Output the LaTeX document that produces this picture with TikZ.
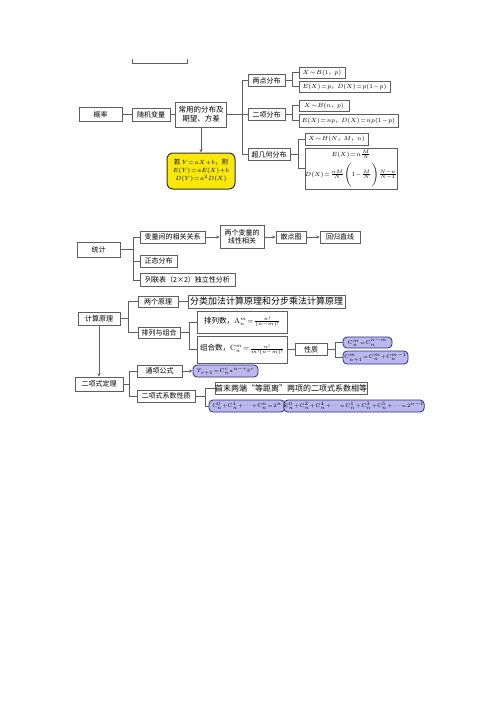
\documentclass[tikz,border=0pt]{standalone}
\usepackage{fontspec}
\newfontfamily\cjk{Noto Sans CJK SC}
\usetikzlibrary{arrows.meta}
\definecolor{linegray}{RGB}{95,95,95}
\definecolor{formfill}{RGB}{186,184,238}
\definecolor{formdraw}{RGB}{45,45,120}
\definecolor{keyfill}{RGB}{250,232,10}
\newcommand\tightmath{\medmuskip=1mu\thickmuskip=1.5mu\thinmuskip=1mu}

\begin{document}
\begin{tikzpicture}[
    x=1pt, y=-1pt,
    base/.style={rectangle, draw=linegray, line width=0.6pt, inner sep=0pt, align=center, font=\cjk\fontsize{7}{8.5}\selectfont},
    sz/.style 2 args={minimum width=#1, minimum height=#2},
    big_style/.style={base, font=\cjk\fontsize{7.5}{9}\selectfont\tightmath},
    form_style/.style={base, font=\cjk\fontsize{6}{7.5}\selectfont\tightmath},
    round_style/.style={base, font=\cjk\fontsize{5.5}{7}\selectfont\tightmath, rounded corners=4pt, fill=formfill, draw=formdraw, line width=0.8pt},
    key_style/.style={base, font=\cjk\fontsize{6.5}{8}\selectfont\tightmath, rounded corners=6pt, fill=keyfill, draw=black!80, line width=1pt},
    link/.style={draw=linegray, line width=0.6pt},
    arrow/.style={link, -{Stealth[length=3.5pt, width=3pt]}}
]
    \path [use as bounding box, fill=white] (0,0) rectangle (500,707);

    % --- CUT-OFF BOX AT THE TOP ---
    \draw [link] (132,59) -- (132,63) -- (187,63) -- (187,59);

    % --- PROBABILITY ---
    \node (gailv) [base, sz={43}{14}] at (100.5,114.5) {概率};
    \node (suiji) [base, sz={38}{13}] at (151,114.5) {随机变量};
    \node (changyong) [big_style, sz={51}{25}] at (201,114.5) {常用的分布及\\期望、方差};
    \node (linear) [key_style, sz={68}{36}] at (201,171) {若 $Y=aX+b$，则\\$E(Y)=aE(X)+b$\\$D(Y)=a^2D(X)$};

    \node (liangdian) [base, sz={37}{12}] at (266.5,80.5) {两点分布};
    \node (erxiang) [base, sz={37}{12}] at (266.5,114.5) {二项分布};
    \node (chaoji) [base, sz={42}{12}] at (269,154.5) {超几何分布};

    \node (ld_law) [form_style, sz={46}{11}] at (322,72.5) {$X\sim B(1$，$p)$};
    \node (ld_mean) [form_style, sz={91}{11}] at (344.5,86.5) {$E(X)=p$，$D(X)=p(1-p)$};
    \node (ex_law) [form_style, sz={50}{11}] at (324,105.5) {$X\sim B(n$，$p)$};
    \node (ex_mean) [form_style, sz={99}{13}] at (348.5,120.5) {$E(X)=np$，$D(X)=np(1-p)$};
    \node (cj_law) [form_style, sz={63}{12}] at (336.5,139) {$X\sim H(N$，$M$，$n)$};
    \node (cj_mean) [form_style, sz={92}{41}] at (351,168.5) {$E(X)=n\frac{M}{N}$\\[3pt]$D(X)=\frac{nM}{N}\Bigl(1-\frac{M}{N}\Bigr)\frac{N-n}{N-1}$};

    \draw [link] (gailv) -- (suiji);
    \draw [link] (suiji) -- (changyong);
    \draw [arrow] (changyong) -- (linear);
    \foreach \n in {liangdian, erxiang, chaoji}
        \draw [link] (changyong.east) -- ++(15,0) |- (\n.west);
    \foreach \n in {ld_law, ld_mean}
        \draw [link] (liangdian.east) -- ++(7,0) |- (\n.west);
    \foreach \n in {ex_law, ex_mean}
        \draw [link] (erxiang.east) -- ++(7,0) |- (\n.west);
    \foreach \n in {cj_law, cj_mean}
        \draw [link] (chaoji.east) -- ++(8,0) |- (\n.west);

    % --- STATISTICS ---
    \node (tongji) [base, sz={43}{15}] at (98.5,249.5) {统计};
    \node (xiangguan) [base, sz={65}{12}] at (172.5,237) {变量间的相关关系};
    \node (zhengtai) [base, sz={37}{12}] at (158.5,261) {正态分布};
    \node (lianbiao) [base, sz={95}{13}] at (187.5,280) {列联表（2×2）独立性分析};
    \node (liangge) [base, sz={44}{23}] at (242,237) {两个变量的\\线性相关};
    \node (sandian) [base, sz={30}{12}] at (291,237) {散点图};
    \node (huigui) [base, sz={40}{12}] at (340,237) {回归直线};

    \foreach \n in {xiangguan, zhengtai, lianbiao}
        \draw [link] (tongji.east) -- ++(13,0) |- (\n.west);
    \draw [arrow] (xiangguan) -- (liangge);
    \draw [arrow] (liangge) -- (sandian);
    \draw [arrow] (sandian) -- (huigui);

    % --- COUNTING PRINCIPLES ---
    \node (jisuan) [base, sz={42}{13}] at (99,318.5) {计算原理};
    \node (yuanli) [base, sz={40}{11}] at (158,301.5) {两个原理};
    \node (pailie) [base, sz={42}{11}] at (159,332.5) {排列与组合};
    \node (fenlei) [base, font=\cjk\fontsize{9}{10}\selectfont, sz={157}{13}] at (266.5,301.5) {分类加法计算原理和分步乘法计算原理};
    \node (paishu) [big_style, sz={90}{22}] at (242,322) {排列数，$\mathrm{A}_n^m=\frac{n!}{(n-m)!}$};
    \node (zuhe) [big_style, sz={90}{27}] at (242,349.5) {组合数，$\mathrm{C}_n^m=\frac{n!}{m!(n-m)!}$};
    \node (xingzhi) [base, sz={32}{12}] at (311,349.5) {性质};
    \node (sym) [round_style, sz={49}{11}] at (367.5,342.5) {$\mathrm{C}_n^m=\mathrm{C}_n^{n-m}$};
    \node (pascal) [round_style, sz={65}{13}] at (375.5,357.5) {$\mathrm{C}_{n+1}^m=\mathrm{C}_n^m+\mathrm{C}_n^{m-1}$};

    \foreach \n in {yuanli, pailie}
        \draw [link] (jisuan.east) -- ++(8,0) |- (\n.west);
    \draw [link] (yuanli) -- (fenlei);
    \foreach \n in {paishu, zuhe}
        \draw [link] (pailie.east) -- ++(9,0) |- (\n.west);
    \draw [link] (zuhe) -- (xingzhi);
    \foreach \n in {sym, pascal}
        \draw [link] (xingzhi.east) -- ++(8,0) |- (\n.west);

    % --- BINOMIAL THEOREM ---
    \node (erxiangshi) [base, sz={48}{14}] at (99,384) {二项式定理};
    \node (tongxiang) [base, sz={45}{12}] at (159.5,371) {通项公式};
    \node (term) [round_style, sz={65}{12}] at (225.5,371) {$T_{r+1}=\mathrm{C}_n^r a^{n-r}b^r$};
    \node (xishu) [base, sz={58}{12}] at (166,396) {二项式系数性质};
    \node (shoumo) [base, font=\cjk\fontsize{8}{9}\selectfont, sz={152}{12}] at (291,388) {首末两端“等距离”两项的二项式系数相等};
    \node (sum_all) [round_style, sz={76}{12}] at (247,406) {$\mathrm{C}_n^0+\mathrm{C}_n^1+\cdots+\mathrm{C}_n^n=2^n$};
    \node (sum_half) [round_style, font=\fontsize{5.2}{6.5}\selectfont\tightmath, sz={128}{12}] at (354,406) {$\mathrm{C}_n^0+\mathrm{C}_n^2+\mathrm{C}_n^4+\cdots=\mathrm{C}_n^1+\mathrm{C}_n^3+\mathrm{C}_n^5+\cdots=2^{n-1}$};

    \draw [arrow] (jisuan) -- (erxiangshi);
    \foreach \n in {tongxiang, xishu}
        \draw [link] (erxiangshi.east) -- ++(6,0) |- (\n.west);
    \draw [arrow] (tongxiang) -- (term);
    \foreach \n in {shoumo, sum_all}
        \draw [link] (xishu.east) -- ++(10,0) |- (\n.west);
    \draw [arrow] (sum_all) -- (sum_half);

\end{tikzpicture}
\end{document}
